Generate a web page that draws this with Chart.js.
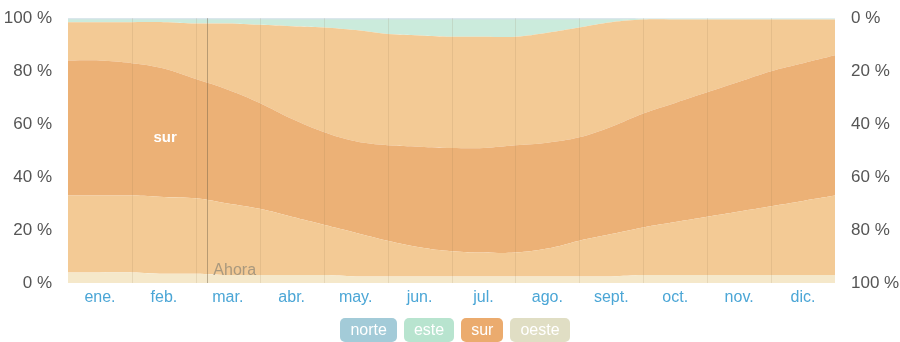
<!DOCTYPE html>
<html>
<head>
<meta charset="utf-8">
<script src="https://cdn.jsdelivr.net/npm/chart.js@4.4.0/dist/chart.umd.min.js"></script>
<style>
    body { margin: 0; background: #fff; font-family: "Liberation Sans", Arial, sans-serif; }
    #wrap { position: relative; width: 900px; height: 342px; }
    #legend { position: absolute; top: 318px; left: 0; width: 910px; display: flex; justify-content: center; gap: 7px; }
    #legend span { display: inline-block; padding: 2px 10px; border-radius: 5px; color: #fff; font-size: 16px; line-height: 20px; }
</style>
</head>
<body>
<div id="wrap">
    <canvas id="windChart" width="900" height="342"></canvas>
    <div id="legend"></div>
</div>
<script>
// Month labels and sample positions (in months from 1 Jan)
const months = ['ene.', 'feb.', 'mar.', 'abr.', 'may.', 'jun.', 'jul.', 'ago.', 'sept.', 'oct.', 'nov.', 'dic.'];
const pos = [0, 0.5, 1, 1.5, 2, 2.5, 3, 3.5, 4, 4.5, 5, 5.5, 6, 6.5, 7, 7.5, 8, 8.5, 9, 9.5, 10, 10.5, 11, 11.5, 12];

// Percent of time per band, bottom to top
const oeste    = [4, 4, 4, 3.5, 3.5, 3, 3, 3, 3, 2.5, 2.5, 2.5, 2.5, 2.5, 2.5, 2.5, 2.5, 2.5, 3, 3, 3, 3, 3, 3, 3];
const surOeste = [29, 29, 29, 29, 28.5, 27, 25, 22, 19, 16.5, 13.5, 11, 9.5, 9, 9, 10.5, 13.5, 16, 18, 20, 22, 24, 26, 28, 30];
const sur      = [51, 51, 50, 48.5, 45, 43, 40, 37, 35, 34.5, 36, 38, 39, 39.5, 40.5, 40, 39, 40.5, 43, 45, 47, 49, 51, 52, 53];
const surEste  = [14.5, 14.5, 15.5, 17.5, 21, 25, 29.5, 35, 39.5, 42, 42, 42, 42, 42, 41, 41.5, 41.5, 39.5, 35.5, 31.5, 27.5, 23.5, 19.5, 16.5, 13.5];
const este     = [1, 1, 1, 1, 1.5, 1.5, 2, 2.5, 3, 4, 5.5, 6, 6.5, 6.5, 6.5, 5, 3, 1, 0.3, 0.3, 0.3, 0.3, 0.3, 0.3, 0.3];
const norte    = [0.5, 0.5, 0.5, 0.5, 0.5, 0.5, 0.5, 0.5, 0.5, 0.5, 0.5, 0.5, 0.5, 0.5, 0.5, 0.5, 0.5, 0.5, 0.2, 0.2, 0.2, 0.2, 0.2, 0.2, 0.2];

const percentTicks = [0, 20, 40, 60, 80, 100];
const nowPos = 2.18;          // "Ahora" marker, early March
const surLabelAt = [1.52, 55]; // month, percent

const legendItems = [
    { label: 'norte', color: '#a3cbd8' },
    { label: 'este', color: '#b8e4cf' },
    { label: 'sur', color: '#ebab6e' },
    { label: 'oeste', color: '#e0dec4' }
];

const toPoints = arr => arr.map((v, i) => ({ x: pos[i], y: v }));

const bands = [
    { label: 'oeste', data: oeste, color: '#f5e8ca' },
    { label: 'sur-oeste', data: surOeste, color: '#f3ca95' },
    { label: 'sur', data: sur, color: '#ecb176' },
    { label: 'sur-este', data: surEste, color: '#f3ca95' },
    { label: 'este', data: este, color: '#cbebdc' },
    { label: 'norte', data: norte, color: '#a8c6d2' }
];

// Month grid on top of the areas, now line, "Ahora" and "sur" label
const overlayPlugin = {
    id: 'overlay',
    afterDatasetsDraw(chart) {
        const { ctx, chartArea, scales } = chart;
        ctx.save();
        ctx.strokeStyle = 'rgba(140,110,70,0.14)';
        ctx.lineWidth = 1;
        for (let m = 1; m < months.length; m++) {
            const gx = Math.round(scales.x.getPixelForValue(m)) + 0.5;
            ctx.beginPath();
            ctx.moveTo(gx, chartArea.top);
            ctx.lineTo(gx, chartArea.bottom);
            ctx.stroke();
        }

        const x = scales.x.getPixelForValue(nowPos);
        ctx.strokeStyle = 'rgba(110,95,70,0.45)';
        ctx.beginPath();
        ctx.moveTo(Math.round(x) + 0.5, chartArea.top);
        ctx.lineTo(Math.round(x) + 0.5, chartArea.bottom);
        ctx.stroke();

        ctx.font = '16px "Liberation Sans", Arial, sans-serif';
        ctx.fillStyle = 'rgba(150,140,120,0.8)';
        ctx.textBaseline = 'alphabetic';
        ctx.fillText('Ahora', x + 6, chartArea.bottom - 8);

        ctx.font = 'bold 15px "Liberation Sans", Arial, sans-serif';
        ctx.fillStyle = '#ffffff';
        ctx.textAlign = 'center';
        ctx.textBaseline = 'middle';
        ctx.fillText('sur', scales.x.getPixelForValue(surLabelAt[0]), scales.y.getPixelForValue(surLabelAt[1]));
        ctx.restore();
    }
};

const tickFont = { family: '"Liberation Sans", Arial, sans-serif', size: 17 };

new Chart(document.getElementById('windChart'), {
    type: 'line',
    data: {
        datasets: bands.map((b, i) => ({
            label: b.label,
            data: toPoints(b.data),
            backgroundColor: b.color,
            borderWidth: 0,
            pointRadius: 0,
            tension: 0.4,
            fill: i === 0 ? 'origin' : '-1',
            xAxisID: 'x',
            yAxisID: 'y'
        }))
    },
    options: {
        responsive: false,
        animation: false,
        layout: { padding: { top: 17, bottom: 34 } },
        plugins: { legend: { display: false }, tooltip: { enabled: false } },
        scales: {
            x: { type: 'linear', min: 0, max: 12, display: false },
            xm: {
                type: 'category',
                labels: months,
                position: 'bottom',
                offset: true,
                grid: { offset: true, color: 'rgba(0,0,0,0)', drawTicks: false },
                border: { display: false },
                ticks: { color: '#4ba6d6', font: { ...tickFont, size: 16 }, padding: 5, maxRotation: 0 },
                afterFit: s => { s.height = 25; }
            },
            y: {
                stacked: true,
                min: 0, max: 100,
                position: 'left',
                afterBuildTicks: s => { s.ticks = percentTicks.map(v => ({ value: v })); },
                ticks: { color: '#555', font: tickFont, padding: 8, callback: v => v + ' %' },
                grid: { display: false },
                border: { display: false },
                afterFit: s => { s.width = 68; }
            },
            y2: {
                min: 0, max: 100,
                reverse: true,
                position: 'right',
                afterBuildTicks: s => { s.ticks = percentTicks.map(v => ({ value: v })); },
                ticks: { color: '#555', font: tickFont, padding: 8, callback: v => v + ' %' },
                grid: { display: false },
                border: { display: false },
                afterFit: s => { s.width = 65; }
            }
        }
    },
    plugins: [overlayPlugin]
});

// Pill legend
const legendEl = document.getElementById('legend');
legendItems.forEach(item => {
    const span = document.createElement('span');
    span.textContent = item.label;
    span.style.background = item.color;
    legendEl.appendChild(span);
});
</script>
</body>
</html>
